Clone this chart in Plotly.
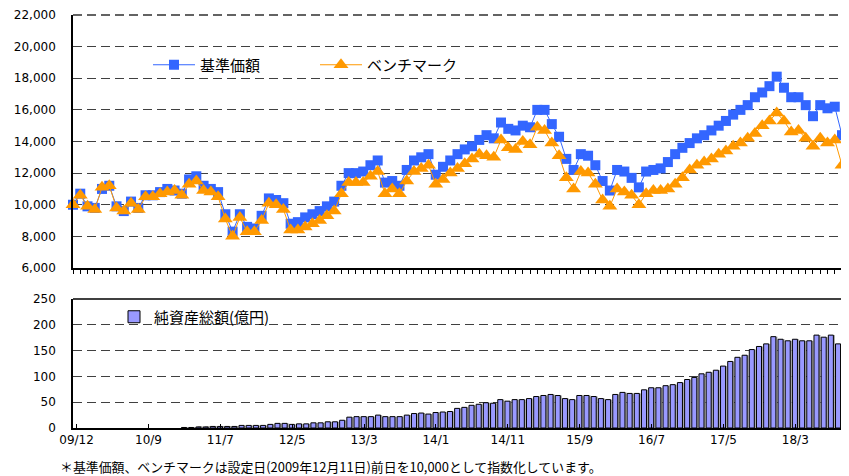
import plotly.graph_objects as go

# ---- data ----
tick_idx = [0, 10, 20, 30, 40, 50, 60, 70, 80, 90, 100]
tick_text = ["09/12", "10/9", "11/7", "12/5", "13/3", "14/1", "14/11", "15/9", "16/7", "17/5", "18/3"]

nav = [10000, 10700, 9900, 9800, 11000, 11200, 9900, 9600, 10200, 9800,
       10600, 10600, 10800, 11000, 10900, 10700, 11600, 11800, 11200, 11000,
       10800, 9400, 8300, 9400, 8600, 8500, 9300, 10400, 10300, 10100,
       8800, 8900, 9200, 9400, 9600, 9900, 10200, 11200, 12000, 12000,
       12100, 12500, 12800, 11400, 11500, 11200, 12200, 12800, 13000, 13200,
       11900, 12400, 12800, 13200, 13500, 13700, 14100, 14400, 14200, 15200,
       14800, 14700, 15000, 14900, 16000, 16000, 15100, 14300, 12900, 12200,
       13200, 13100, 12500, 11500, 10900, 12200, 12100, 11700, 11100, 12100,
       12200, 12300, 12700, 13200, 13600, 13900, 14200, 14400, 14700, 15000,
       15300, 15700, 16000, 16300, 16800, 17100, 17500, 18100, 17400, 16800,
       16800, 16300, 15600, 16300, 16100, 16200, 14400]

bench = [10000, 10600, 9900, 9700, 11100, 11200, 9800, 9600, 10100, 9700,
         10500, 10500, 10700, 10800, 10900, 10600, 11300, 11500, 10900, 10800,
         10500, 9100, 8000, 9200, 8300, 8300, 9000, 10100, 10000, 9700,
         8400, 8400, 8600, 8800, 9000, 9300, 9600, 10700, 11400, 11400,
         11400, 11800, 12100, 10700, 11000, 10700, 11500, 12100, 12300, 12500,
         11300, 11600, 12000, 12300, 12600, 12900, 13200, 13100, 13000, 14100,
         13600, 13500, 14000, 13800, 14900, 14700, 13900, 13100, 11700, 11000,
         12100, 12000, 11300, 10300, 9900, 11000, 10800, 10600, 10000, 10700,
         10900, 10900, 11000, 11300, 11700, 12200, 12500, 12700, 12900, 13200,
         13400, 13700, 13900, 14200, 14500, 15000, 15300, 15800, 15300, 14600,
         14700, 14200, 13700, 14200, 13900, 14100, 12500]

assets_start = 15
assets_vals = [1, 1, 2, 2, 3, 3, 3, 3, 5, 5, 5, 5, 7, 9, 9, 7, 8, 8, 10, 10,
               12, 12, 15, 21, 22, 22, 22, 25, 22, 22, 22, 25,
               28, 29, 27, 30, 31, 32,
               38, 40, 44, 46, 49, 48, 55, 52, 55, 55,
               57, 61, 63, 65, 63, 57, 55, 63, 63, 61,
               57, 55, 65, 69, 67, 67, 74, 78, 78, 82,
               84, 88, 94, 98, 105, 108, 112, 120, 129, 137,
               141, 152, 158, 163, 177, 172, 169, 172, 169, 169,
               180, 176, 180, 163]

idx = list(range(len(nav)))
assets = [None] * assets_start + assets_vals

# page is rendered with an 8px body margin; work in page pixels and convert
OFF = 8
W, H = 849 - OFF, 476 - OFF
PL, PR, PT, PB = 73, 842, 15, 428          # plot area on the page
L, T = PL - OFF, PT - OFF
R, B = W - (PR - OFF), H - (PB - OFF)
pw = W - L - R
ph = H - T - B


def px(xp):
    return (xp - OFF - L) / pw


def py(yp):
    return (H - B - (yp - OFF)) / ph


top_dom = [py(268), 1.0]
bot_dom = [0.0, py(299)]

tick_font = dict(family="DejaVu Sans", size=12, color="#000000")
jp = "Noto Sans CJK JP"

fig = go.Figure()
fig.add_trace(go.Scatter(
    x=idx, y=nav, name="基準価額", mode="lines+markers",
    line=dict(color="#3366FF", width=1),
    marker=dict(symbol="square", size=10, color="#3366FF"),
    xaxis="x", yaxis="y", legend="legend", cliponaxis=False))
fig.add_trace(go.Scatter(
    x=idx, y=bench, name="ベンチマーク", mode="lines+markers",
    line=dict(color="#FF9900", width=1),
    marker=dict(symbol="triangle-up", size=13, color="#FF9900"),
    xaxis="x", yaxis="y", legend="legend2", cliponaxis=False))
# shadow of bars
fig.add_trace(go.Bar(
    x=idx, y=assets, showlegend=False, hoverinfo="skip",
    marker=dict(color="#A8A8A8", line=dict(width=0)),
    offset=-0.18, width=0.7, xaxis="x2", yaxis="y2"))
fig.add_trace(go.Bar(
    x=idx, y=assets, name="純資産総額(億円)",
    marker=dict(color="#9999FF", line=dict(color="#000000", width=1)),
    offset=-0.4, width=0.7, xaxis="x2", yaxis="y2", legend="legend3"))

grid = dict(showgrid=True, gridcolor="#404040", gridwidth=1, griddash="9px,5px")
leg_common = dict(xref="paper", yref="paper", xanchor="left", yanchor="middle",
                  bgcolor="rgba(0,0,0,0)",
                  font=dict(family=jp, size=15, color="#000000"))

fig.update_layout(
    width=W, height=H, autosize=False,
    margin=dict(l=L, r=R, t=T, b=B, pad=0, autoexpand=False),
    paper_bgcolor="white", plot_bgcolor="white",
    barmode="overlay",
    font=dict(family="DejaVu Sans", size=12, color="#000000"),
    xaxis=dict(domain=[0, 1], anchor="y", range=[0, 106],
               tickvals=idx, ticktext=[""] * len(idx), ticks="outside",
               ticklen=4, tickcolor="#000000", tickwidth=1,
               showline=True, linecolor="#000000", linewidth=2,
               showgrid=False, zeroline=False),
    yaxis=dict(domain=top_dom, anchor="x", range=[6000, 22000], dtick=2000,
               tickformat=",d", tickfont=tick_font, ticks="",
               ticklabelstandoff=13,
               showline=True, linecolor="#000000", linewidth=1.5,
               zeroline=False, **grid),
    xaxis2=dict(domain=[0, 1], anchor="y2", range=[-0.5, len(idx) - 0.5],
                tickvals=tick_idx, ticktext=tick_text, tickfont=tick_font,
                tickangle=0,
                ticks="inside", ticklen=4, tickcolor="#000000",
                showline=True, linecolor="#000000", linewidth=1.5,
                showgrid=False, zeroline=False),
    yaxis2=dict(domain=bot_dom, anchor="x2", range=[0, 250], dtick=50,
                tickfont=tick_font, ticks="", ticklabelstandoff=13,
                showline=True, linecolor="#000000", linewidth=1.5,
                zeroline=False, **grid),
    legend=dict(x=px(148), y=py(65), itemwidth=42, **leg_common),
    legend2=dict(x=px(315), y=py(65), itemwidth=42, **leg_common),
    legend3=dict(x=px(114), y=py(317), itemwidth=30, **leg_common),
    shapes=[
        dict(type="line", xref="paper", yref="paper", x0=0, x1=1,
             y0=1, y1=1, line=dict(color="#303030", width=1.5, dash="9px,5px")),
        dict(type="line", xref="paper", yref="paper", x0=1, x1=1,
             y0=top_dom[0], y1=top_dom[1], line=dict(color="#808080", width=1)),
        dict(type="line", xref="paper", yref="paper", x0=1, x1=1,
             y0=bot_dom[0], y1=bot_dom[1], line=dict(color="#808080", width=1)),
        dict(type="line", xref="paper", yref="paper", x0=0, x1=1,
             y0=bot_dom[1], y1=bot_dom[1], line=dict(color="#000000", width=1.5)),
    ],
    annotations=[dict(
        text="＊基準価額、ベンチマークは設定日(2009年12月11日)前日を10,000として指数化しています。",
        xref="paper", yref="paper", x=px(58), y=py(466),
        xanchor="left", yanchor="middle", showarrow=False,
        font=dict(family=jp, size=12.9, color="#000000"))],
)

fig.write_html("out.html")
